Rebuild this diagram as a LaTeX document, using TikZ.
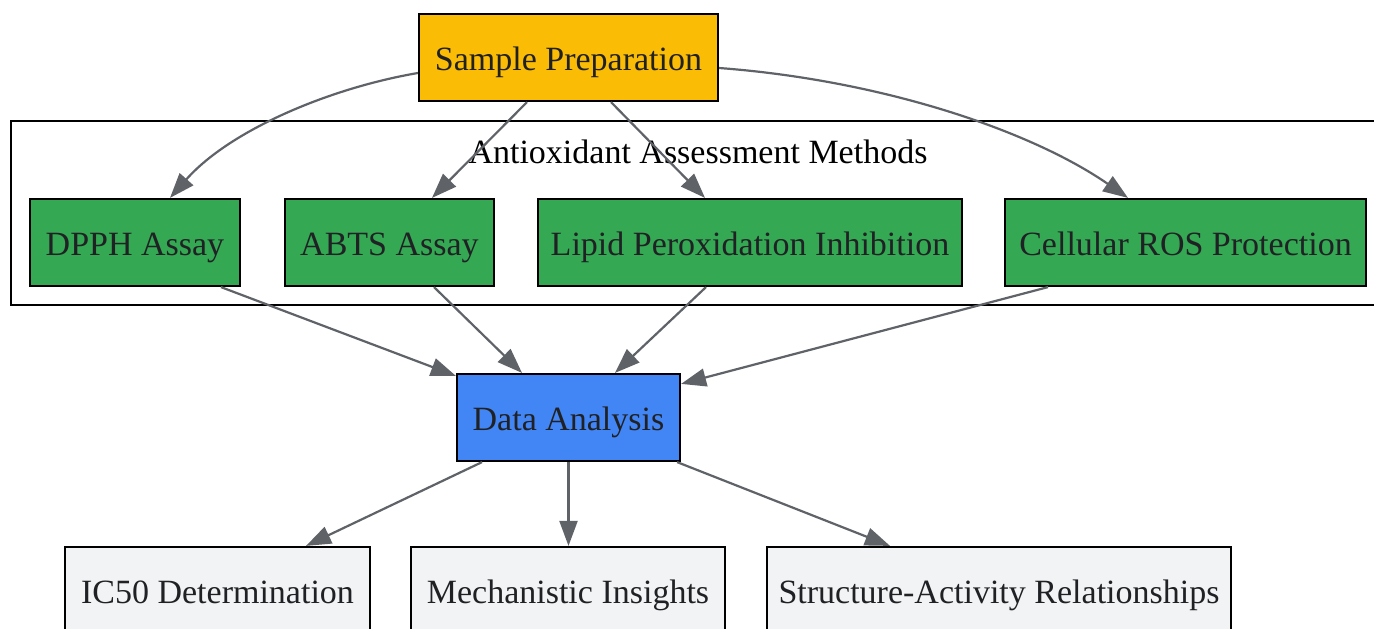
\documentclass[tikz,border=0pt]{standalone}
\usepackage{fontspec}
\setmainfont{Liberation Serif}
\usetikzlibrary{arrows.meta}
\definecolor{spc}{HTML}{FBBC05}
\definecolor{grn}{HTML}{34A853}
\definecolor{blu}{HTML}{4285F4}
\definecolor{lgr}{HTML}{F1F3F4}
\definecolor{edg}{HTML}{5F6368}
\definecolor{txt}{HTML}{202124}
\begin{document}
\begin{tikzpicture}[x=1pt,y=-1pt,
  lbl/.style={inner sep=0pt,text height=33pt,text depth=8pt,font=\fontsize{34}{40}\selectfont},
  box/.style={lbl,draw=black,line width=2.2pt,rectangle,minimum height=87pt,text=txt},
  conn/.style={draw=edg,line width=2.2pt,-{Triangle[length=25pt,width=18pt]}}]
\clip (0,0) rectangle (1374,629);
\fill[white] (0,0) rectangle (1374,629);
% cluster
\draw[line width=2.2pt] (11,121) rectangle (1390,305);
\node[lbl,text=black] (cl) at (698,150.5) {Antioxidant Assessment Methods};
% nodes
\node[box,fill=spc,minimum width=299pt] (sp) at (568.5,57.5) {Sample Preparation};
\node[box,fill=grn,minimum width=210pt] (dpph) at (135,242.5) {DPPH Assay};
\node[box,fill=grn,minimum width=209pt] (abts) at (389.5,242.5) {ABTS Assay};
\node[box,fill=grn,minimum width=424pt] (lipid) at (750,242.5) {Lipid Peroxidation Inhibition};
\node[box,fill=grn,minimum width=361pt] (cell) at (1185.5,242.5) {Cellular ROS Protection};
\node[box,fill=blu,minimum width=223pt] (da) at (568.5,417.5) {Data Analysis};
\node[box,fill=lgr,minimum width=305pt] (ic) at (217.5,590.5) {IC50 Determination};
\node[box,fill=lgr,minimum width=314pt] (mech) at (568,590.5) {Mechanistic Insights};
\node[box,fill=lgr,minimum width=464pt] (sar) at (999,590.5) {Structure-Activity Relationships};
% edges
\draw[conn] ([yshift=-15.5pt]sp.west) .. controls (330,88) and (230,130) .. ([xshift=35pt]dpph.north);
\draw[conn] ([xshift=-41.5pt]sp.south) -- ([xshift=42.5pt]abts.north);
\draw[conn] ([xshift=42.5pt]sp.south) -- ([xshift=-45pt]lipid.north);
\draw[conn] ([yshift=-10.5pt]sp.east) .. controls (880,80) and (1030,130) .. ([xshift=-57.5pt]cell.north);
\draw[conn] ([xshift=86pt]dpph.south) -- ([yshift=-3pt]da.north west);
\draw[conn] ([xshift=44.5pt]abts.south) -- ([xshift=-46.5pt]da.north);
\draw[conn] ([xshift=-44pt]lipid.south) -- ([xshift=46.5pt]da.north);
\draw[conn] ([xshift=-137.5pt]cell.south) -- ([yshift=-11pt]da.north east);
\draw[conn] ([xshift=-86.5pt]da.south) -- ([xshift=88.5pt]ic.north);
\draw[conn] (da.south) -- (da.south |- mech.north);
\draw[conn] ([xshift=-4pt]da.south east) -- ([xshift=-109pt]sar.north);
\end{tikzpicture}
\end{document}
